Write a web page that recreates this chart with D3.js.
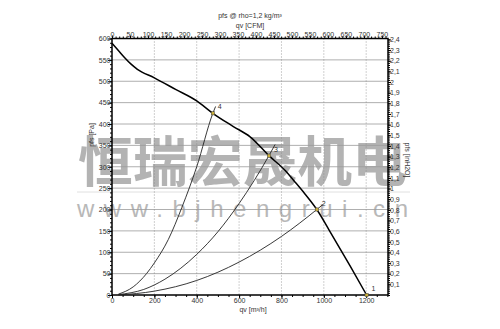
<!DOCTYPE html>
<meta charset="utf-8">
<style>
body { margin: 0; background: #fff; }
text { font-family: "Liberation Sans", Arial, sans-serif; }
.axis text { font-size: 7px; fill: #333; }
.axis path, .axis line { stroke: #000; }
.grid-h line { stroke: #9a9a9a; stroke-width: 0.8; }
.grid-v line { stroke: #8a8a8a; stroke-width: 0.8; stroke-dasharray: 1,2; }
.lbl { font-size: 7px; fill: #333; }
</style>
<svg width="500" height="329"></svg>
<script src="https://d3js.org/d3.v7.min.js"></script>
<script>

// fan curve pfs [Pa] vs qv [m3/h]
let fanCurve = [[0,589],[30,572],[60,555],[90,540],[120,528],[200,508],[300,481],[400,454],
    [476,425],[573,394],[652,370],[741,326],[820,290],[856,269],[910,237],[967,200],
    [1025,152],[1124,68],[1202,0]];

// system curves, labelled at their operating point
let sys4 = [[30,2],[100,19],[163,50],[200,75],[266,130],[330,205],[400,300],[476,425],[489,441]];
let sys3 = [[30,1],[150,13],[250,37],[400,95],[500,148],[600,214],[741,326],[770,352]];
let sys2 = [[30,0],[200,9],[400,34],[600,77],[800,137],[967,200],[994,211]];

let opPoints = [
    {id: "1", q: 1202, p: 0},
    {id: "2", q: 967, p: 200},
    {id: "3", q: 741, p: 326},
    {id: "4", q: 476, p: 425}
];

let qvTicks = [0, 200, 400, 600, 800, 1000, 1200];
let paTicks = d3.range(0, 601, 50);
let cfmTicks = d3.range(0, 751, 50);
let inTicks = d3.range(1, 25).map(d => d / 10);

let svg = d3.select("svg"),
    margin = {top: 38.5, right: 112, bottom: 34, left: 112},
    width = 388 - margin.left,
    height = 295 - margin.top;

let x = d3.scaleLinear().domain([0, 1303]).range([0, width]),
    y = d3.scaleLinear().domain([0, 600]).range([height, 0]),
    xCfm = d3.scaleLinear().domain([0, 1303 / 1.69901]).range([0, width]),
    yIn = d3.scaleLinear().domain([0, 600 / 249.089]).range([height, 0]);

// watermark
svg.append("text")
    .attr("x", 78).attr("y", 182)
    .attr("textLength", 329).attr("lengthAdjust", "spacingAndGlyphs")
    .style("font-family", "'Noto Sans CJK SC', sans-serif")
    .style("font-weight", 700)
    .style("font-size", "54px")
    .style("fill", "#b3b3b3")
    .text("恒瑞宏晟机电");

svg.append("line")
    .attr("x1", 77).attr("x2", 410).attr("y1", 192).attr("y2", 192)
    .style("stroke", "#e0e0e0").style("stroke-width", 1);

svg.append("text")
    .attr("x", 77).attr("y", 217)
    .attr("textLength", 331).attr("lengthAdjust", "spacing")
    .style("font-size", "24px")
    .style("fill", "#b8b8b8")
    .text("www.bjhengrui.cn");

let g = svg.append("g").attr("transform", "translate(" + margin.left + "," + margin.top + ")");

// grid
g.append("g").attr("class", "grid-h")
    .selectAll("line").data(paTicks.slice(1, -1)).enter().append("line")
    .attr("x1", 0).attr("x2", width)
    .attr("y1", d => y(d)).attr("y2", d => y(d));

g.append("g").attr("class", "grid-v")
    .selectAll("line").data(qvTicks.slice(1)).enter().append("line")
    .attr("x1", d => x(d)).attr("x2", d => x(d))
    .attr("y1", 0).attr("y2", height);

// minor ruler ticks
g.append("g").attr("class", "axis")
    .call(d3.axisLeft(y).tickValues(d3.range(0, 601, 10)).tickSize(2).tickFormat(""));
g.append("g").attr("class", "axis")
    .call(d3.axisTop(xCfm).tickValues(d3.range(0, 761, 10)).tickSize(2).tickFormat(""));
g.append("g").attr("class", "axis").attr("transform", "translate(" + width + ",0)")
    .call(d3.axisRight(yIn).tickValues(d3.range(0, 2.41, 0.02)).tickSize(2).tickFormat(""));
g.append("g").attr("class", "axis").attr("transform", "translate(0," + height + ")")
    .call(d3.axisBottom(x).tickValues(d3.range(0, 1301, 50)).tickSize(2).tickFormat(""));

// major axes
let comma = d => String(+d.toFixed(1)).replace(".", ",");

g.append("g").attr("class", "axis")
    .call(d3.axisLeft(y).tickValues(paTicks).tickSize(4).tickPadding(-2.5));
g.append("g").attr("class", "axis")
    .call(d3.axisTop(xCfm).tickValues(cfmTicks).tickSize(3).tickPadding(-1));
g.append("g").attr("class", "axis").attr("transform", "translate(" + width + ",0)")
    .call(d3.axisRight(yIn).tickValues(inTicks).tickSize(3).tickPadding(-1).tickFormat(comma));
g.append("g").attr("class", "axis").attr("transform", "translate(0," + height + ")")
    .call(d3.axisBottom(x).tickValues(qvTicks).tickSize(3).tickPadding(0).tickFormat(d3.format("d")));

g.selectAll(".axis .domain").remove();

g.append("rect")
    .attr("width", width).attr("height", height)
    .style("fill", "none").style("stroke", "#000").style("stroke-width", 1.5);

// curves
let line = d3.line()
    .curve(d3.curveMonotoneX)
    .x(d => x(d[0]))
    .y(d => y(d[1]));

[sys4, sys3, sys2].forEach(function(s) {
    g.append("path")
        .attr("d", line(s))
        .style("fill", "none").style("stroke", "#222").style("stroke-width", 0.9);
});

g.append("path")
    .attr("d", line(fanCurve))
    .style("fill", "none").style("stroke", "#000").style("stroke-width", 1.5);

let pt = g.selectAll(".op").data(opPoints).enter().append("g").attr("class", "op");
pt.append("rect")
    .attr("x", d => x(d.q) - 1.6).attr("y", d => y(d.p) - 1.6)
    .attr("width", 3.2).attr("height", 3.2)
    .style("fill", "#c9ae3a").style("stroke", "#444").style("stroke-width", 0.5);
pt.append("text")
    .attr("class", "lbl")
    .attr("x", d => x(d.q) + 5).attr("y", d => y(d.p) - 4)
    .text(d => d.id);

// titles
svg.append("text").attr("class", "lbl")
    .attr("x", 250).attr("y", 18).attr("text-anchor", "middle")
    .text("pfs @ rho=1,2 kg/m³");
svg.append("text").attr("class", "lbl")
    .attr("x", 250).attr("y", 28).attr("text-anchor", "middle")
    .text("qv [CFM]");
svg.append("text").attr("class", "lbl")
    .attr("x", 253).attr("y", 312).attr("text-anchor", "middle")
    .text("qv [m³/h]");
svg.append("text").attr("class", "lbl")
    .attr("transform", "translate(94,135) rotate(-90)").attr("text-anchor", "middle")
    .text("pfs [Pa]");
svg.append("text").attr("class", "lbl")
    .attr("transform", "translate(405,160) rotate(90)").attr("text-anchor", "middle")
    .text("pfs [inH2O]");

</script>
